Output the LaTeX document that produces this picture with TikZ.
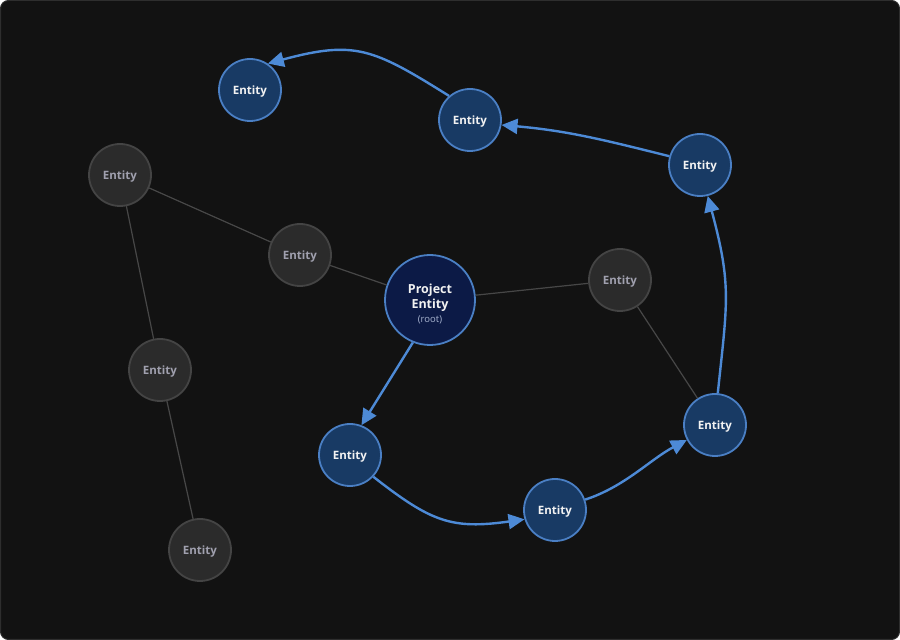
\documentclass[tikz,border=0pt]{standalone}
\usepackage{fontspec}
\setmainfont{Open Sans}
\usetikzlibrary{arrows.meta}
\definecolor{bgc}{HTML}{121212}
\definecolor{framec}{HTML}{2E2E2E}
\definecolor{bluefill}{HTML}{183A64}
\definecolor{blueedge}{HTML}{4A7FC4}
\definecolor{arrowc}{HTML}{4D8AD6}
\definecolor{rootfill}{HTML}{0C1A46}
\definecolor{grayfill}{HTML}{2B2B2B}
\definecolor{grayedge}{HTML}{444444}
\definecolor{graytext}{HTML}{A0A0AE}
\definecolor{grayline}{HTML}{474747}
\definecolor{roottext}{HTML}{A8B4D0}
\definecolor{whitetext}{HTML}{F2F2F2}
\tikzset{
  x=1pt,y=1pt,
  ent/.style={circle,minimum size=62pt,inner sep=0pt,line width=1.8pt,text height=8.8pt,text depth=0pt,font=\fontsize{11.5}{13}\selectfont\bfseries},
  bluent/.style={ent,fill=bluefill,draw=blueedge,text=whitetext},
  grayent/.style={ent,fill=grayfill,draw=grayedge,text=graytext},
  rootent/.style={circle,minimum size=90pt,inner sep=0pt,line width=1.8pt,fill=rootfill,draw=blueedge},
  roottxt/.style={align=center,text=whitetext,inner sep=0pt,yshift=-4pt,font=\fontsize{12.5}{15}\selectfont\bfseries},
  glink/.style={draw=grayline,line width=1.2pt},
  blink/.style={draw=arrowc,line width=2.4pt,-{Triangle[length=16pt,width=15pt]}}
}
\begin{document}
\begin{tikzpicture}
\useasboundingbox (0,0) rectangle (900,640);
\draw[fill=bgc,draw=framec,line width=1pt,rounded corners=8pt] (0.5,0.5) rectangle (899.5,639.5);
% gray nodes
\node[grayent] (g1) at (120,465) {Entity};
\node[grayent] (g2) at (300,385) {Entity};
\node[grayent] (g3) at (620,360) {Entity};
\node[grayent] (g4) at (160,270) {Entity};
\node[grayent] (g5) at (200,90) {Entity};
% blue nodes
\node[bluent] (a1) at (250,550) {Entity};
\node[bluent] (a2) at (470,520) {Entity};
\node[bluent] (a3) at (700,475) {Entity};
\node[bluent] (b1) at (350,185) {Entity};
\node[bluent] (b2) at (555,130) {Entity};
\node[bluent] (b3) at (715,215) {Entity};
\node[rootent,label={[roottxt]center:Project\\Entity\\[-1pt]{\fontsize{9.5}{11}\selectfont\mdseries\color{roottext}(root)}}] (root) at (430,340) {};
% gray links
\path[glink] (g1) -- (g2);
\path[glink] (g2) -- (root);
\path[glink] (root) -- (g3);
\path[glink] (g3) -- (b3);
\path[glink] (g1) -- (g4);
\path[glink] (g4) -- (g5);
% blue arrows
\path[blink] (root.248) -- (b1.69);
\path[blink] (b1.-43) to[out=-38,in=188,looseness=1.2] (b2.197);
\path[blink] (b2.19) to[out=18,in=208,looseness=0.9] (b3.208);
\path[blink] (b3.85) to[out=84,in=285,looseness=1.2] (a3.-76);
\path[blink] (a3.164) to[out=166,in=-5] (a2.-9);
\path[blink] (a2.131) to[out=148,in=15,looseness=1.25] (a1.56);
\end{tikzpicture}
\end{document}
